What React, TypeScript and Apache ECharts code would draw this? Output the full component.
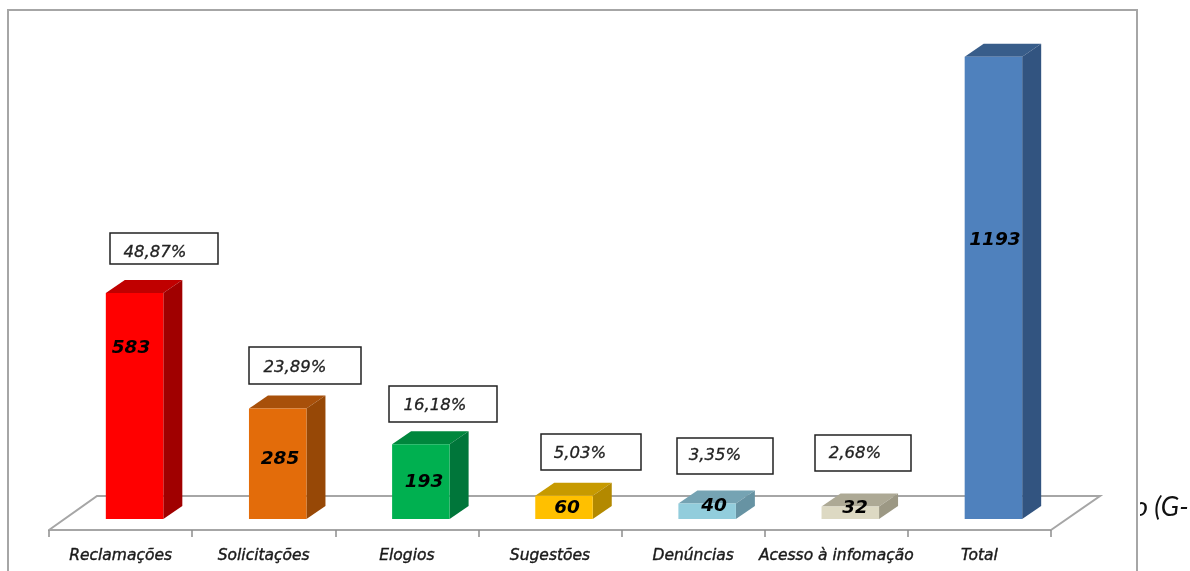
import React, { useEffect, useRef } from "react";
import * as echarts from "echarts";

const categories = ["Reclamações", "Solicitações", "Elogios", "Sugestões", "Denúncias", "Acesso à infomação", "Total"];
const values = [583, 285, 193, 60, 40, 32, 1193];
const percents = ["48,87%", "23,89%", "16,18%", "5,03%", "3,35%", "2,68%"];
const clippedNote = "o (G-";

// Colours per bar: front, top, side
const frontColors = ["#FF0000", "#E36C0A", "#00B050", "#FFC000", "#92CDDC", "#DDD9C3", "#4F81BD"];
const topColors = ["#C00000", "#A8500A", "#00873D", "#C79A00", "#75A3B3", "#ADA995", "#385D8A"];
const sideColors = ["#A00000", "#974806", "#00763A", "#B38900", "#6793A3", "#9C9884", "#325480"];

// Layout of the annotations
const valueLabelPos = [[131, 346], [280, 457], [424, 480], [567, 506], [714, 504], [855, 506], [995, 238]];
const boxRects = [
  [110, 233, 108, 31],
  [249, 347, 112, 37],
  [389, 386, 108, 36],
  [541, 434, 100, 36],
  [677, 438, 96, 36],
  [815, 435, 96, 36],
];
const boxTextPos = [[155, 251], [295, 366], [435, 404], [580, 452], [715, 454], [855, 452]];

const BAR_W = 57.5;
const BAR_SHIFT = 14;
const DX = 19;
const DY = 13;
const FONT = "'DejaVu Sans', sans-serif";

export default function App() {
  const ref = useRef<HTMLDivElement>(null);
  useEffect(() => {
    if (!ref.current) return;
    const chart = echarts.init(ref.current, undefined, { renderer: "svg" });
    chart.setOption({
      animation: false,
      backgroundColor: "#FFFFFF",
      grid: { left: 49, top: 54, width: 1002, height: 465, containLabel: false },
      xAxis: {
        type: "category",
        data: categories,
        offset: 11,
        boundaryGap: true,
        axisLine: { onZero: false, lineStyle: { color: "#A6A6A6", width: 2 } },
        axisTick: { show: true, length: 7, lineStyle: { color: "#8C8C8C", width: 1.5 } },
        axisLabel: {
          interval: 0,
          margin: 17,
          color: "#1A1A1A",
          fontFamily: FONT,
          fontStyle: "italic",
          fontSize: 15.5,
          textBorderColor: "#1A1A1A",
          textBorderWidth: 0.4,
        },
      },
      yAxis: { type: "value", min: 0, max: 1200, show: false, splitLine: { show: false } },
      graphic: {
        elements: [
          {
            type: "polyline",
            z: 1,
            silent: true,
            shape: { points: [[49, 530], [97, 496], [1100, 496], [1051, 530]] },
            style: { stroke: "#A6A6A6", lineWidth: 2, fill: "none" },
          },
          {
            type: "text",
            z: 1,
            x: 1134,
            y: 492,
            style: { text: clippedNote, font: "italic 27px Lato, sans-serif", fill: "#111111" },
          },
          {
            type: "rect",
            z: 2,
            silent: true,
            shape: { x: 1105, y: 488, width: 35, height: 36 },
            style: { fill: "#FFFFFF" },
          },
          {
            type: "polyline",
            z: 3,
            silent: true,
            shape: { points: [[8, 571], [8, 10], [1137, 10], [1137, 571]] },
            style: { stroke: "#A6A6A6", lineWidth: 2, fill: "none" },
          },
          ...boxRects.map((r) => ({
            type: "rect",
            z: 20,
            silent: true,
            shape: { x: r[0], y: r[1], width: r[2], height: r[3] },
            style: { fill: "#FFFFFF", stroke: "#222222", lineWidth: 1.5 },
          })),
          ...percents.map((p, i) => ({
            type: "text",
            z: 21,
            x: boxTextPos[i][0],
            y: boxTextPos[i][1],
            style: {
              text: p,
              align: "center",
              verticalAlign: "middle",
              font: `italic 16.5px ${FONT}`,
              fill: "#222222",
              stroke: "#222222",
              lineWidth: 0.3,
            },
          })),
        ],
      },
      series: [
        {
          type: "custom",
          z: 10,
          clip: false,
          encode: { x: 0, y: 1 },
          data: values.map((v, i) => [i, v]),
          renderItem: (params: any, api: any) => {
            const i = api.value(0);
            const top = api.coord([i, api.value(1)]);
            const base = api.coord([i, 0]);
            const x0 = top[0] + BAR_SHIFT - BAR_W / 2;
            const x1 = x0 + BAR_W;
            const yt = top[1];
            const yb = base[1];
            return {
              type: "group",
              children: [
                {
                  type: "polygon",
                  shape: { points: [[x0, yt], [x0 + DX, yt - DY], [x1 + DX, yt - DY], [x1, yt]] },
                  style: { fill: topColors[i] },
                },
                {
                  type: "polygon",
                  shape: { points: [[x1, yt], [x1 + DX, yt - DY], [x1 + DX, yb - DY], [x1, yb]] },
                  style: { fill: sideColors[i] },
                },
                {
                  type: "rect",
                  shape: { x: x0, y: yt, width: BAR_W, height: yb - yt },
                  style: { fill: frontColors[i] },
                },
                {
                  type: "text",
                  x: valueLabelPos[i][0],
                  y: valueLabelPos[i][1],
                  style: {
                    text: String(api.value(1)),
                    align: "center",
                    verticalAlign: "middle",
                    font: `italic bold 18.5px ${FONT}`,
                    fill: "#000000",
                  },
                },
              ],
            };
          },
        },
      ],
    });
    return () => chart.dispose();
  }, []);
  return (
    <div
      ref={ref}
      style={{ position: "absolute", left: 0, top: 0, width: 1190, height: 571, overflow: "hidden", background: "#FFFFFF", filter: "blur(0.5px)" }}
    />
  );
}
